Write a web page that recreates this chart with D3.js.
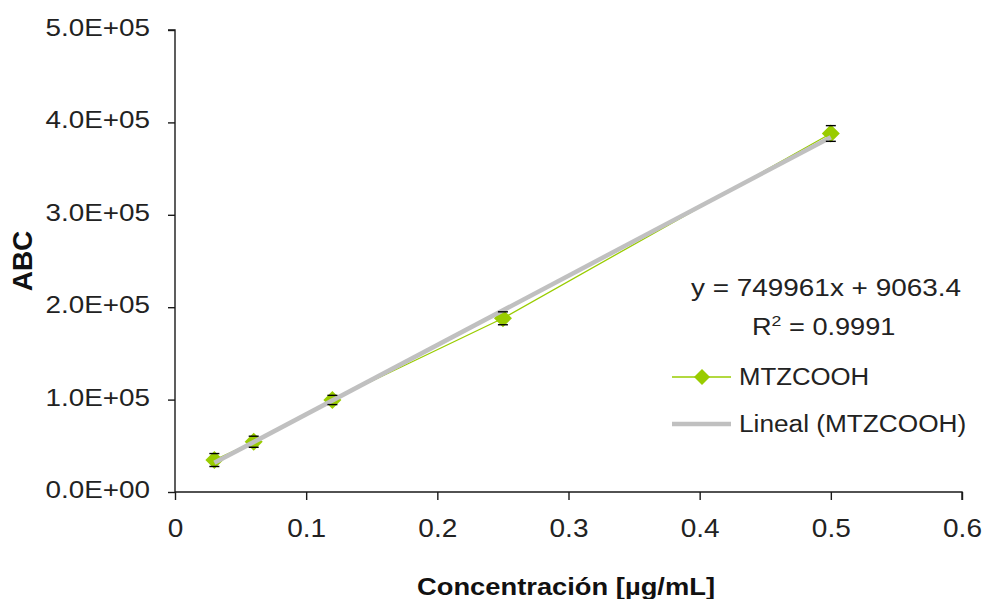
<!DOCTYPE html>
<html>
<head>
<meta charset="utf-8">
<script src="https://cdn.jsdelivr.net/npm/d3@7"></script>
<style>
  html, body { margin: 0; padding: 0; background: #fff; }
  svg { display: block; font-family: "Liberation Sans", Arial, sans-serif; }
</style>
</head>
<body>
<svg id="chart" width="982" height="599"></svg>
<script>
// Calibration data for MTZCOOH
const concentrations = [0.03, 0.06, 0.12, 0.25, 0.5];
const abcValues = [34600, 54400, 99600, 188000, 388000];
const abcErrors = [7000, 6000, 5000, 7000, 8500];
const xTicks = [0, 0.1, 0.2, 0.3, 0.4, 0.5, 0.6];
const yTicks = [0, 100000, 200000, 300000, 400000, 500000];
// Linear fit reported for the series
const fitSlope = 749961;
const fitIntercept = 9063.4;
const fitR2 = "0.9991";

const svg = d3.select("#chart");
const plotLeft = 175, plotRight = 962, plotTop = 30, plotBottom = 492;

const x = d3.scaleLinear().domain([0, 0.6]).range([plotLeft, plotRight]);
const y = d3.scaleLinear().domain([0, 500000]).range([plotBottom, plotTop]);

const green = "#99CC00";
const grey = "#C0C0C0";
const ink = "#1a1a1a";

// Widen text horizontally by a factor, keeping its anchor
function widen(sel, factor) {
  sel.each(function () {
    const len = this.getComputedTextLength();
    d3.select(this).attr("textLength", len * factor).attr("lengthAdjust", "spacingAndGlyphs");
  });
}

function sci(v) {
  const [m, e] = v.toExponential(1).split("e");
  const sign = e[0] === "-" ? "-" : "+";
  const digits = e.replace(/[+-]/, "").padStart(2, "0");
  return m + "E" + sign + digits;
}

// Y axis
const yAxis = svg.append("g")
  .attr("transform", `translate(${plotLeft},0)`)
  .call(d3.axisLeft(y).tickValues(yTicks).tickSize(7).tickPadding(18).tickFormat(sci));
// X axis
const xAxis = svg.append("g")
  .attr("transform", `translate(0,${plotBottom})`)
  .call(d3.axisBottom(x).tickValues(xTicks).tickSize(8).tickPadding(19).tickFormat(d => String(d)));

[yAxis, xAxis].forEach(g => {
  g.select(".domain").attr("stroke", ink).attr("stroke-width", 1.4);
  g.selectAll(".tick line").attr("stroke", ink).attr("stroke-width", 1.4);
  g.selectAll(".tick text")
    .attr("fill", "#222")
    .style("font-family", "'Liberation Sans', Arial, sans-serif");
});
yAxis.selectAll(".tick text").style("font-size", "23px").attr("dy", "0.24em");
xAxis.selectAll(".tick text").style("font-size", "25px");
widen(yAxis.selectAll(".tick text"), 1.21);
widen(xAxis.selectAll(".tick text"), 1.12);
yAxis.select(".domain").attr("d", `M-7,${y(500000)}H0V${plotBottom}`);
xAxis.select(".domain").attr("d", `M${plotLeft},0H${plotRight}V8`);

// Axis titles
svg.append("text")
  .attr("transform", `translate(32,${(plotTop + plotBottom) / 2}) rotate(-90)`)
  .attr("text-anchor", "middle")
  .style("font-size", "28px")
  .style("font-weight", "bold")
  .attr("fill", "#111")
  .text("ABC");

svg.append("text")
  .attr("x", 566).attr("y", 595)
  .attr("text-anchor", "middle")
  .attr("textLength", 298)
  .attr("lengthAdjust", "spacingAndGlyphs")
  .style("font-size", "24px")
  .style("font-weight", "bold")
  .attr("fill", "#111")
  .text("Concentración [µg/mL]");

const pts = concentrations.map((c, i) => ({ c, v: abcValues[i], e: abcErrors[i] }));

// Series line (thin green)
svg.append("path")
  .datum(pts)
  .attr("fill", "none")
  .attr("stroke", green)
  .attr("stroke-width", 1.3)
  .attr("d", d3.line().x(d => x(d.c)).y(d => y(d.v)));

// Diamond markers
const diamond = (cx, cy, r) => `M${cx},${cy - r}L${cx + r},${cy}L${cx},${cy + r}L${cx - r},${cy}Z`;
svg.append("g").selectAll("path")
  .data(pts).join("path")
  .attr("d", d => diamond(x(d.c), y(d.v), 9))
  .attr("fill", green);

// Linear trend line across the measured range
const xr = d3.extent(concentrations);
svg.append("path")
  .datum(xr)
  .attr("fill", "none")
  .attr("stroke", grey)
  .attr("stroke-width", 4.5)
  .attr("d", d3.line().x(d => x(d)).y(d => y(fitSlope * d + fitIntercept)));

// Error bars with caps
const eb = svg.append("g").attr("stroke", "#000").attr("stroke-width", 1.4);
pts.forEach(d => {
  const cx = x(d.c), y1 = y(d.v + d.e), y2 = y(d.v - d.e);
  eb.append("line").attr("x1", cx - 5).attr("x2", cx + 5).attr("y1", y1).attr("y2", y1);
  eb.append("line").attr("x1", cx - 5).attr("x2", cx + 5).attr("y1", y2).attr("y2", y2);
});

// Equation and R²
svg.append("text")
  .attr("x", 691).attr("y", 296)
  .attr("textLength", 270)
  .attr("lengthAdjust", "spacingAndGlyphs")
  .style("font-size", "23px")
  .attr("fill", "#222")
  .text(`y = ${fitSlope}x + ${fitIntercept}`);

const r2 = svg.append("text")
  .attr("x", 752).attr("y", 335)
  .style("font-size", "23px")
  .attr("fill", "#222");
r2.append("tspan").text("R");
r2.append("tspan").attr("dy", -9).style("font-size", "15px").text("2");
r2.append("tspan").attr("dy", 9).text(` = ${fitR2}`);
widen(r2, 1.18);

// Legend
const legend = svg.append("g");
legend.append("line")
  .attr("x1", 672).attr("x2", 731).attr("y1", 377).attr("y2", 377)
  .attr("stroke", green).attr("stroke-width", 1.3);
legend.append("path").attr("d", diamond(702, 377, 8)).attr("fill", green);
const lt1 = legend.append("text")
  .attr("x", 739).attr("y", 385)
  .style("font-size", "23px").attr("fill", "#222")
  .text("MTZCOOH");

legend.append("line")
  .attr("x1", 672).attr("x2", 731).attr("y1", 424).attr("y2", 424)
  .attr("stroke", grey).attr("stroke-width", 4.5);
const lt2 = legend.append("text")
  .attr("x", 739).attr("y", 432)
  .style("font-size", "23px").attr("fill", "#222")
  .text("Lineal (MTZCOOH)");
widen(lt1, 1.12);
widen(lt2, 1.14);
</script>
</body>
</html>
